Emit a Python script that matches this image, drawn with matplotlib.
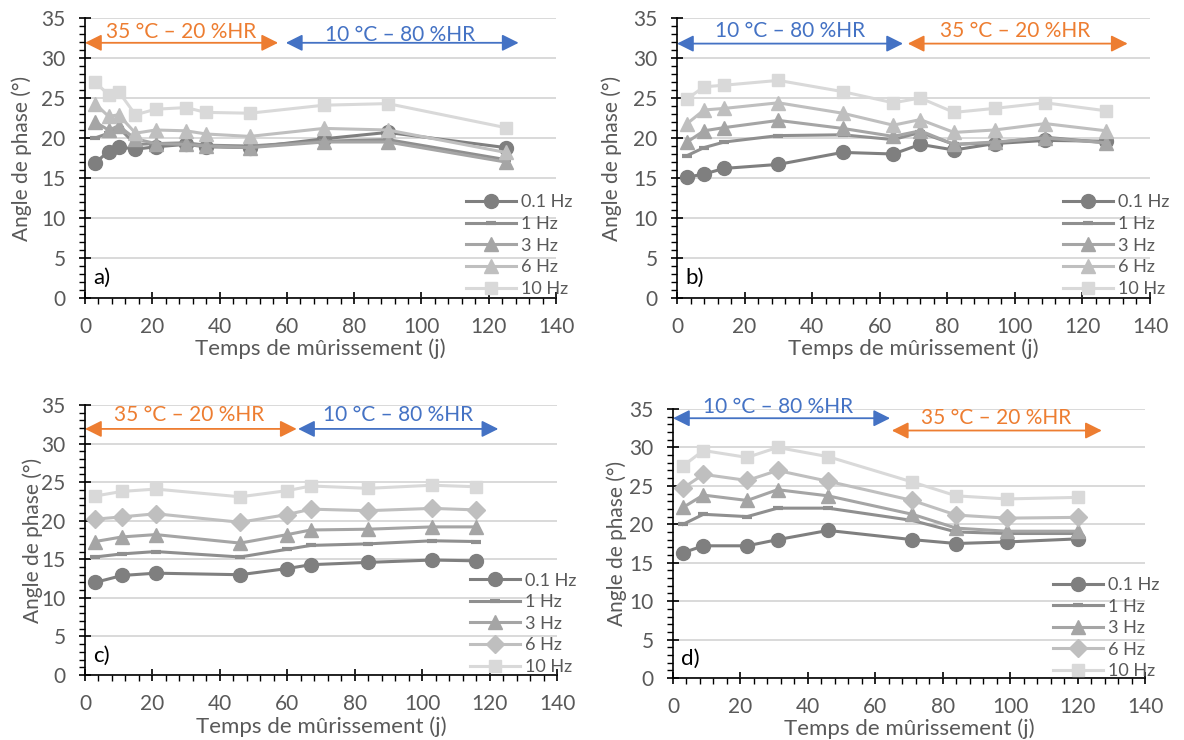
import matplotlib.pyplot as plt
from matplotlib.ticker import MultipleLocator

plt.rcParams['font.family'] = ['Lato', 'DejaVu Sans']

# ---- data ----
freq_labels = ['0.1 Hz', '1 Hz', '3 Hz', '6 Hz', '10 Hz']

a_days = [3, 7, 10, 15, 21, 30, 36, 49, 71, 90, 125]
a_01 = [16.9, 18.3, 18.9, 18.6, 18.9, 19.2, 18.9, 18.8, 19.9, 20.7, 18.8]
a_1 = [20.0, 20.6, 21.3, 19.2, 19.3, 19.4, 19.1, 19.0, 19.6, 19.8, 17.3]
a_3 = [22.0, 21.0, 21.5, 19.9, 19.3, 19.2, 19.0, 18.8, 19.5, 19.5, 17.0]
a_6 = [24.3, 22.7, 22.9, 20.6, 21.0, 20.9, 20.5, 20.2, 21.2, 21.0, 18.2]
a_10 = [27.0, 25.4, 25.8, 22.9, 23.6, 23.8, 23.2, 23.1, 24.1, 24.3, 21.3]

b_days = [3, 8, 14, 30, 49, 64, 72, 82, 94, 109, 127]
b_01 = [15.1, 15.5, 16.2, 16.7, 18.2, 18.0, 19.2, 18.5, 19.3, 19.7, 19.6]
b_1 = [17.8, 18.8, 19.5, 20.3, 20.4, 19.8, 20.7, 19.2, 19.4, 20.1, 19.4]
b_3 = [19.5, 20.9, 21.3, 22.2, 21.2, 20.2, 20.9, 19.2, 19.5, 20.0, 19.4]
b_6 = [21.8, 23.5, 23.7, 24.4, 23.1, 21.6, 22.3, 20.7, 21.0, 21.8, 20.9]
b_10 = [24.9, 26.4, 26.6, 27.2, 25.8, 24.4, 25.0, 23.2, 23.7, 24.4, 23.4]

c_days = [3, 11, 21, 46, 60, 67, 84, 103, 116]
c_01 = [12.0, 12.9, 13.2, 13.0, 13.8, 14.3, 14.6, 14.9, 14.8]
c_1 = [15.3, 15.7, 16.0, 15.3, 16.3, 16.8, 17.0, 17.4, 17.3]
c_3 = [17.3, 17.9, 18.2, 17.1, 18.2, 18.8, 18.9, 19.2, 19.2]
c_6 = [20.2, 20.5, 20.9, 19.8, 20.8, 21.5, 21.3, 21.6, 21.4]
c_10 = [23.2, 23.8, 24.1, 23.1, 23.9, 24.5, 24.2, 24.6, 24.4]

d_days = [3, 9, 22, 31, 46, 71, 84, 99, 120]
d_01 = [16.3, 17.2, 17.2, 18.0, 19.2, 18.0, 17.5, 17.7, 18.1]
d_1 = [20.0, 21.3, 21.0, 22.1, 22.1, 20.5, 19.0, 18.8, 18.8]
d_3 = [22.2, 23.8, 23.1, 24.5, 23.7, 21.3, 19.5, 19.1, 19.1]
d_6 = [24.7, 26.5, 25.7, 27.0, 25.6, 23.1, 21.2, 20.8, 20.9]
d_10 = [27.6, 29.6, 28.7, 30.0, 28.8, 25.5, 23.7, 23.3, 23.5]

hot = '35 °C – 20 %HR'
cold = '10 °C – 80 %HR'

# ---- style ----
colors = ['#7f7f7f', '#8f8f8f', '#a5a5a5', '#bfbfbf', '#d9d9d9']
ORANGE = '#ED7D31'
BLUE = '#4472C4'
GREY_TXT = '#595959'


def draw_panel(ax, days, series, markers, tag, arrows, ylab_x, xlab_y, leg_pos):
    for vals, lab, col, mk in zip(series, freq_labels, colors, markers):
        ms = 10 if mk in ('o', '^') else 9
        if mk == '_':
            ax.plot(days, vals, color=col, lw=2.2, marker='_', ms=7, mew=3,
                    label=lab)
        else:
            ax.plot(days, vals, color=col, lw=2.2, marker=mk, ms=ms,
                    mec=col, mfc=col, label=lab)

    ax.set_xlim(0, 140)
    ax.set_ylim(0, 35)
    ax.xaxis.set_major_locator(MultipleLocator(20))
    ax.xaxis.set_minor_locator(MultipleLocator(4))
    ax.yaxis.set_major_locator(MultipleLocator(5))
    ax.yaxis.set_minor_locator(MultipleLocator(1))
    ax.yaxis.grid(True, color='#d9d9d9', lw=1.4)
    ax.set_axisbelow(True)

    for s in ('top', 'right'):
        ax.spines[s].set_visible(False)
    for s in ('left', 'bottom'):
        ax.spines[s].set_linewidth(1.2)

    ax.tick_params(which='major', direction='inout', length=8, width=1.2,
                   color='black', labelcolor=GREY_TXT, labelsize=15)
    ax.tick_params(which='minor', direction='out', length=4, width=1.0,
                   color='black')
    ax.tick_params(axis='x', which='major', pad=10)
    ax.tick_params(axis='y', which='major', pad=10)

    ax.set_xlabel('Temps de mûrissement (j)', fontsize=16, color=GREY_TXT)
    ax.set_ylabel('Angle de phase (°)', fontsize=15, color=GREY_TXT)
    ax.xaxis.set_label_coords(0.5, xlab_y)
    ax.yaxis.set_label_coords(ylab_x, 0.5)

    ax.text(2.5, 2.5, tag, fontsize=16, color='black', va='center', ha='left')

    # climate period arrows
    for x0, x1, y, txt, tx, ty, col in arrows:
        ax.annotate('', xy=(x1, y), xytext=(x0, y),
                    arrowprops=dict(arrowstyle='<|-|>,head_length=1.0,head_width=0.5',
                                    color=col, lw=1.3, shrinkA=0, shrinkB=0,
                                    mutation_scale=10),
                    annotation_clip=False)
        ax.text(tx, ty, txt, color=col, fontsize=15, ha='center', va='center',
                clip_on=False)

    leg = ax.legend(loc='lower left', bbox_to_anchor=leg_pos, frameon=False,
                    fontsize=13, borderpad=0, borderaxespad=0,
                    handlelength=2.75, handletextpad=0.3, labelspacing=0.31,
                    numpoints=1)
    for t in leg.get_texts():
        t.set_color(GREY_TXT)


fig = plt.figure(figsize=(11.84, 7.4), dpi=100)

ax_a = fig.add_axes([85 / 1184, 1 - 298 / 740, 471 / 1184, 280 / 740])
ax_b = fig.add_axes([677 / 1184, 1 - 298 / 740, 473 / 1184, 280 / 740])
ax_c = fig.add_axes([85 / 1184, 1 - 675 / 740, 472 / 1184, 270 / 740])
ax_d = fig.add_axes([673 / 1184, 1 - 678 / 740, 472 / 1184, 269 / 740])

mk_ab = ['o', '_', '^', '^', 's']
mk_cd = ['o', '_', '^', 'D', 's']

draw_panel(ax_a, a_days, [a_01, a_1, a_3, a_6, a_10], mk_ab, 'a)',
           [(0, 57.4, 31.9, hot, 28.6, 33.3, ORANGE),
            (59.7, 128.9, 31.9, cold, 93.7, 32.9, BLUE)],
           -0.113, -0.145, (0.809, 0.004))
draw_panel(ax_b, b_days, [b_01, b_1, b_3, b_6, b_10], mk_ab, 'b)',
           [(0, 66.9, 31.8, cold, 33.4, 33.4, BLUE),
            (68.3, 133.4, 31.8, hot, 100.0, 33.4, ORANGE)],
           -0.116, -0.145, (0.816, 0.004))
draw_panel(ax_c, c_days, [c_01, c_1, c_3, c_6, c_10], mk_cd, 'c)',
           [(0, 62.8, 31.9, hot, 31.0, 33.7, ORANGE),
            (63.2, 122.6, 31.9, cold, 93.0, 33.7, BLUE)],
           -0.089, -0.152, (0.816, 0.0))
draw_panel(ax_d, d_days, [d_01, d_1, d_3, d_6, d_10], mk_cd, 'd)',
           [(0, 64.4, 33.8, cold, 31.2, 35.2, BLUE),
            (64.9, 127.2, 32.2, hot, 95.9, 33.8, ORANGE)],
           -0.097, -0.152, (0.805, -0.005))

fig.savefig('out.png', dpi=100)
